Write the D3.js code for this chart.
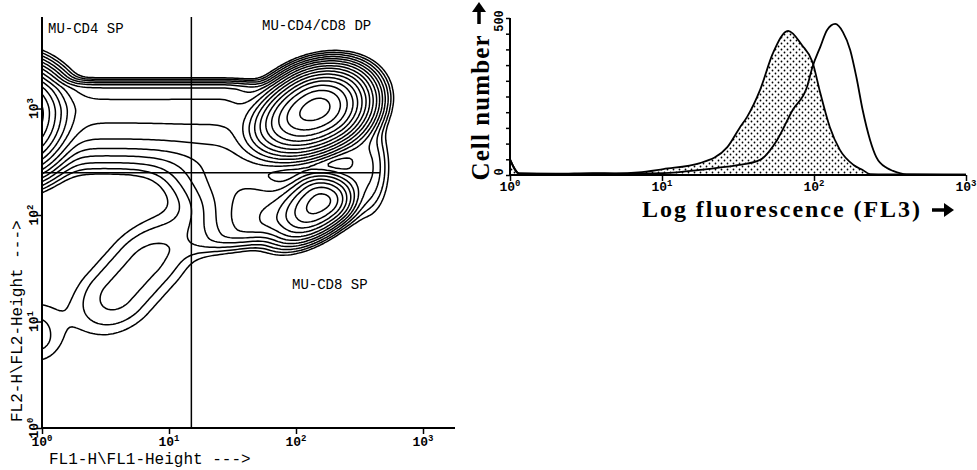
<!DOCTYPE html>
<html>
<head>
<meta charset="utf-8">
<script src="https://cdn.jsdelivr.net/npm/d3@7"></script>
<style>
  body { margin: 0; background: #fff; }
  .mono { font-family: "Liberation Mono", "DejaVu Sans Mono", monospace; fill: #000; }
  .serif { font-family: "Liberation Serif", "Times New Roman", serif; font-weight: bold; fill: #000; }
</style>
</head>
<body>
<svg id="fig" width="977" height="470"></svg>
<script>
// ---- FL1 / FL2 contour plot: cell populations (log10 units) ----
// each population: centre, tilt, flat core length along the tilt, split spreads, weight
var popName   = ['DP', 'CD8 SP', 'CD8 tail', 'DP-CD8 link', 'CD4 band', 'CD4 band edge', 'axis pile', 'DN', 'DN low', 'bridge'];
var popFL1    = [2.16, 2.20, 1.75, 2.55, 0.75, 0.75, -0.25, 0.70, -0.05, 1.50];
var popFL2    = [3.00, 2.12, 1.95, 2.45, 2.96, 3.17, 2.95, 1.40, 0.85, 2.30];
var popAngle  = [35, 45, 20, 0, 0, 0, 0, 53, 0, -30];
var popCore   = [0, 0, 0, 0, 1.3, 1.3, 0, 0.35, 0, 0];
var popSdL    = [0.22, 0.20, 0.30, 0.15, 0.20, 0.20, 0.17, 0.28, 0.15, 0.30];
var popSdR    = [0.17, 0.12, 0.25, 0.10, 0.25, 0.25, 0.17, 0.32, 0.15, 0.30];
var popSdD    = [0.14, 0.10, 0.10, 0.25, 0.24, 0.10, 0.22, 0.20, 0.18, 0.20];
var popSdU    = [0.13, 0.12, 0.20, 0.25, 0.12, 0.05, 0.18, 0.20, 0.25, 0.20];
var popWeight = [1.0, 0.10, 0.010, 0.004, 0.014, 0.007, 0.60, 0.0025, 0.0016, 0.006];

var contourLevels = [0.80, 0.50, 0.32, 0.20, 0.13, 0.082, 0.052, 0.033, 0.021, 0.013,
                     0.0083, 0.0053, 0.0034, 0.0021, 0.0013, 0.0008];

var quadFL1 = 15, quadFL2 = 250;
var quadLabels = ['MU-CD4 SP', 'MU-CD4/CD8 DP', 'MU-CD8 SP'];

// ---- FL3 histogram ----
var fl3Filled = [1, 1.15, 2, 3.5, 5, 7, 10.2, 17.8, 26.9, 32.4, 36.3, 44.2, 53.7, 67.6, 83.2, 97.7, 110, 127, 148, 182, 209, 234, 316, 1000];
var cntFilled = [50, 5, 4, 6, 5, 8, 19, 38, 89, 150, 185, 271, 388, 459, 414, 360, 261, 153, 80, 32, 16, 3, 2, 1];
var fl3Open   = [1, 1.15, 2, 3.5, 5, 7, 10.2, 17.8, 25.1, 32.4, 44.2, 57.1, 72.4, 89.9, 97.7, 110, 122, 138, 155, 173, 190, 209, 234, 257, 302, 331, 407, 1000];
var cntOpen   = [50, 5, 3, 4, 4, 5, 6, 16, 25, 32, 48, 111, 207, 280, 344, 408, 462, 481, 455, 398, 312, 207, 111, 57, 22, 13, 2, 1];
var countTicks = d3.range(0, 501, 50);

var decades = [0, 1, 2, 3];

var svg = d3.select('#fig');

var sup = (sel, d) => {
  sel.text('10');
  sel.append('tspan').attr('dy', -5).attr('font-size', '9px').text(d);
};

var minorTicks = (top) => {
  var t = [];
  for (var d = 0; d < top; d++) for (var m = 2; m < 10; m++) t.push(m * Math.pow(10, d));
  return t;
};

// ================= contour plot =================
var fx = d3.scaleLog().domain([1, 1000]).range([42, 423]);
var fy = d3.scaleLog().domain([1, Math.pow(10, 3.85)]).range([428, 18]);

var density = (lx, ly) => {
  var s = 0;
  for (var k = 0; k < popName.length; k++) {
    var dx = lx - popFL1[k], dy = ly - popFL2[k];
    var a = popAngle[k] * Math.PI / 180;
    var u = dx * Math.cos(a) + dy * Math.sin(a);
    var v = -dx * Math.sin(a) + dy * Math.cos(a);
    var half = popCore[k] / 2;
    u = u > half ? u - half : (u < -half ? u + half : 0);
    var su = u < 0 ? popSdL[k] : popSdR[k];
    var sv = v < 0 ? popSdD[k] : popSdU[k];
    s += popWeight[k] * Math.exp(-0.5 * (u * u / (su * su) + v * v / (sv * sv)));
  }
  return s;
};

var step = 0.02, lx0 = -0.5, ly0 = -0.5, nx = 201, ny = 236;
var grid = new Array(nx * ny);
for (var j = 0; j < ny; j++)
  for (var i = 0; i < nx; i++)
    grid[j * nx + i] = density(lx0 + i * step, ly0 + j * step);

var contours = d3.contours().size([nx, ny]).thresholds(contourLevels)(grid);

var proj = d3.geoTransform({
  point: function(x, y) {
    this.stream.point(fx(Math.pow(10, lx0 + (x - 0.5) * step)),
                      fy(Math.pow(10, ly0 + (y - 0.5) * step)));
  }
});

svg.append('clipPath').attr('id', 'clip-dot')
  .append('rect').attr('x', 43).attr('y', 17).attr('width', 420).attr('height', 410);

var gc = svg.append('g').attr('clip-path', 'url(#clip-dot)');

gc.selectAll('path.contour')
  .data(contours)
  .enter()
  .append('path')
  .attr('class', 'contour')
  .attr('d', d3.geoPath(proj))
  .attr('fill', 'none')
  .attr('stroke', '#000')
  .attr('stroke-width', 1.5)
  .attr('stroke-linejoin', 'round');

// quadrant markers
svg.append('line')
  .attr('x1', fx(quadFL1)).attr('x2', fx(quadFL1))
  .attr('y1', 17).attr('y2', fy(1))
  .attr('stroke', '#000').attr('stroke-width', 1.5);
svg.append('line')
  .attr('x1', fx(1)).attr('x2', 380)
  .attr('y1', fy(quadFL2)).attr('y2', fy(quadFL2))
  .attr('stroke', '#000').attr('stroke-width', 1.5);

// axes
var gxa = svg.append('g').attr('transform', `translate(0, ${ fy(1) })`);
gxa.call(d3.axisBottom(fx).tickValues(minorTicks(3)).tickSize(3).tickFormat(''));
gxa.call(d3.axisBottom(fx).tickValues(decades.map((d) => Math.pow(10, d))).tickSize(6).tickFormat(''));
gxa.selectAll('.domain').remove();
gxa.selectAll('line').attr('stroke-width', 1.5);

var gya = svg.append('g').attr('transform', `translate(${ fx(1) }, 0)`);
gya.call(d3.axisLeft(fy).tickValues(minorTicks(3).concat([2000, 3000, 4000, 5000, 6000, 7000])).tickSize(3).tickFormat(''));
gya.call(d3.axisLeft(fy).tickValues(decades.map((d) => Math.pow(10, d))).tickSize(6).tickFormat(''));
gya.selectAll('.domain').remove();
gya.selectAll('line').attr('stroke-width', 1.5);

svg.append('line').attr('x1', fx(1)).attr('x2', 455).attr('y1', fy(1)).attr('y2', fy(1))
  .attr('stroke', '#000').attr('stroke-width', 2);
svg.append('line').attr('x1', fx(1)).attr('x2', fx(1)).attr('y1', fy(1)).attr('y2', 17)
  .attr('stroke', '#000').attr('stroke-width', 2);

svg.selectAll('text.xdec')
  .data(decades)
  .enter()
  .append('text')
  .attr('class', 'mono xdec')
  .attr('x', (d) => fx(Math.pow(10, d)))
  .attr('y', 446)
  .attr('text-anchor', 'middle')
  .attr('font-size', '13px')
  .attr('font-weight', 'bold')
  .each(function(d) { sup(d3.select(this), d); });

svg.selectAll('text.ydec')
  .data(decades)
  .enter()
  .append('text')
  .attr('class', 'mono ydec')
  .attr('transform', (d) => `translate(38, ${ fy(Math.pow(10, d)) }) rotate(-90)`)
  .attr('text-anchor', 'middle')
  .attr('font-size', '13px')
  .attr('font-weight', 'bold')
  .each(function(d) { sup(d3.select(this), d); });

svg.append('text').attr('class', 'mono')
  .attr('x', 49).attr('y', 464)
  .attr('font-size', '16px')
  .text('FL1-H\\FL1-Height --->');

svg.append('text').attr('class', 'mono')
  .attr('transform', 'translate(22, 422) rotate(-90)')
  .attr('font-size', '16px')
  .text('FL2-H\\FL2-Height --->');

var quadPos = [[48, 33], [262, 30], [292, 289]];
svg.selectAll('text.quad')
  .data(quadLabels)
  .enter()
  .append('text')
  .attr('class', 'mono quad')
  .attr('x', (d, i) => quadPos[i][0])
  .attr('y', (d, i) => quadPos[i][1])
  .attr('font-size', '14px')
  .text((d) => d);

// ================= FL3 histogram =================
var hx = d3.scaleLog().domain([1, 1000]).range([510, 966]);
var hy = d3.scaleLinear().domain([0, 500]).range([175, 18]);

var defs = svg.append('defs');
var pat = defs.append('pattern').attr('id', 'stipple')
  .attr('width', 6).attr('height', 6).attr('patternUnits', 'userSpaceOnUse');
pat.append('circle').attr('cx', 1.5).attr('cy', 1.5).attr('r', 0.9).attr('fill', '#000');
pat.append('circle').attr('cx', 4.5).attr('cy', 4.5).attr('r', 0.9).attr('fill', '#000');

var filled = fl3Filled.map((d, i) => ({ fl3: d, n: cntFilled[i] }));
var open   = fl3Open.map((d, i) => ({ fl3: d, n: cntOpen[i] }));

var area = d3.area()
  .curve(d3.curveMonotoneX)
  .x((d) => hx(d.fl3))
  .y0(hy(0))
  .y1((d) => hy(d.n));

var line = d3.line()
  .curve(d3.curveMonotoneX)
  .x((d) => hx(d.fl3))
  .y((d) => hy(d.n));

svg.append('path').attr('d', area(filled)).attr('fill', 'url(#stipple)');
svg.append('path').attr('d', line(filled)).attr('fill', 'none').attr('stroke', '#000').attr('stroke-width', 1.8);
svg.append('path').attr('d', line(open)).attr('fill', 'none').attr('stroke', '#000').attr('stroke-width', 1.8);

var ghx = svg.append('g').attr('transform', `translate(0, ${ hy(0) })`);
ghx.call(d3.axisBottom(hx).tickValues(minorTicks(3)).tickSize(4).tickFormat(''));
ghx.call(d3.axisBottom(hx).tickValues(decades.map((d) => Math.pow(10, d))).tickSize(6).tickFormat(''));
ghx.selectAll('.domain').remove();
ghx.selectAll('line').attr('stroke-width', 1.5);

var ghy = svg.append('g').attr('transform', `translate(${ hx(1) }, 0)`);
ghy.call(d3.axisLeft(hy).tickValues(countTicks).tickSize(4).tickFormat(''));
ghy.selectAll('.domain').remove();
ghy.selectAll('line').attr('stroke-width', 1.5);

svg.append('line').attr('x1', hx(1)).attr('x2', hx(1000)).attr('y1', hy(0)).attr('y2', hy(0))
  .attr('stroke', '#000').attr('stroke-width', 2.2);
svg.append('line').attr('x1', hx(1)).attr('x2', hx(1)).attr('y1', hy(0)).attr('y2', hy(500))
  .attr('stroke', '#000').attr('stroke-width', 2);

svg.selectAll('text.hdec')
  .data(decades)
  .enter()
  .append('text')
  .attr('class', 'mono hdec')
  .attr('x', (d) => hx(Math.pow(10, d)))
  .attr('y', 191)
  .attr('text-anchor', 'middle')
  .attr('font-size', '13px')
  .attr('font-weight', 'bold')
  .each(function(d) { sup(d3.select(this), d); });

svg.selectAll('text.hcnt')
  .data([0, 500])
  .enter()
  .append('text')
  .attr('class', 'mono hcnt')
  .attr('transform', (d) => `translate(503, ${ hy(d) - (d ? -3 : 3) }) rotate(-90)`)
  .attr('text-anchor', 'middle')
  .attr('font-size', '12px')
  .attr('font-weight', 'bold')
  .text((d) => d);

svg.append('text').attr('class', 'serif')
  .attr('transform', 'translate(489, 108) rotate(-90)')
  .attr('text-anchor', 'middle')
  .attr('font-size', '25px')
  .attr('textLength', 145)
  .attr('lengthAdjust', 'spacing')
  .text('Cell number');

svg.append('text').attr('class', 'serif')
  .attr('x', 642).attr('y', 217)
  .attr('font-size', '24px')
  .attr('textLength', 278)
  .attr('lengthAdjust', 'spacing')
  .text('Log fluorescence (FL3)');

// arrows
svg.append('line').attr('x1', 479).attr('x2', 479).attr('y1', 24).attr('y2', 9)
  .attr('stroke', '#000').attr('stroke-width', 3.5);
svg.append('path').attr('d', 'M472,12 L486,12 L479,2 Z').attr('fill', '#000');
svg.append('line').attr('x1', 932).attr('x2', 946).attr('y1', 210).attr('y2', 210)
  .attr('stroke', '#000').attr('stroke-width', 3.5);
svg.append('path').attr('d', 'M944,203 L944,217 L954,210 Z').attr('fill', '#000');
</script>
</body>
</html>
